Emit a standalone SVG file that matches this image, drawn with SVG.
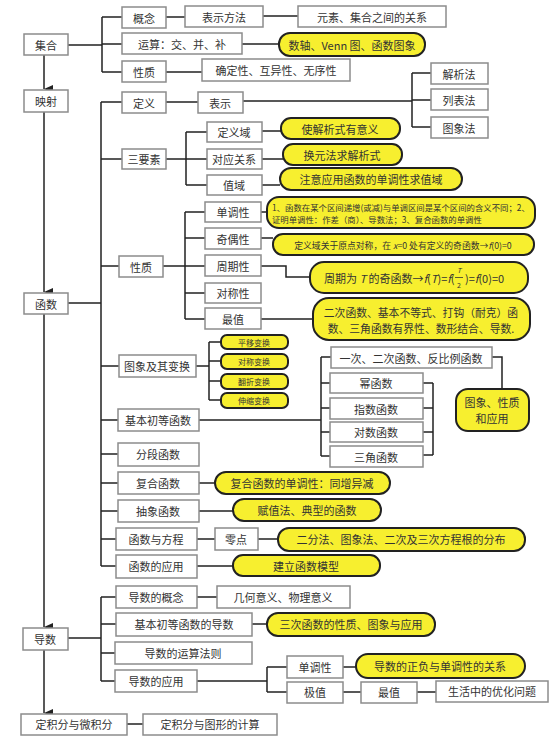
<svg xmlns="http://www.w3.org/2000/svg" width="554" height="740" viewBox="0 0 554 740">
<style>
.box{fill:#fff;stroke:#8c8c8c;stroke-width:1.5}
.pill{fill:#f7ef2f;stroke:#222;stroke-width:2}
.t{font-family:"Noto Sans CJK SC","Noto Sans",sans-serif;font-size:11px;fill:#333;text-anchor:middle;dominant-baseline:central}
.st{text-anchor:start}
.s{font-size:8px}
.xs{font-size:8.4px}
.ln{stroke:#222;stroke-width:1.5;fill:none}
</style>
<defs>
<marker id="ah" markerWidth="8" markerHeight="10" refX="4" refY="9" orient="auto" markerUnits="userSpaceOnUse">
<path d="M0,0 L4,9 L8,0 Z" fill="#222"/>
</marker>
</defs>
<rect width="554" height="740" fill="#fff"/>
<g id="connectors">
<path class="ln" d="M68 45H102M102 17V72M102 17H122M102 44H122M102 72H122M166 17H185M263 16H298M242 44H279M166 72H202"/>
<path class="ln" d="M44 55V89" marker-end="url(#ah)"/>
<path class="ln" d="M44 112V292" marker-end="url(#ah)"/>
<path class="ln" d="M44 314V627" marker-end="url(#ah)"/>
<path class="ln" d="M44 650V713" marker-end="url(#ah)"/>
<path class="ln" d="M68 303H101M101 102V566M101 102H122M101 159H122M101 266H119M101 366H119M101 420H118M101 454H118M101 483H118M101 511H118M101 539H116M101 566H116"/>
<path class="ln" d="M166 102H198M243 101H412M412 73V127M412 73H431M412 100H431M412 127H431"/>
<path class="ln" d="M166 159H186M186 132V185M186 132H207M186 159H207M186 185H207M262 131H281M262 159H283M262 185H280"/>
<path class="ln" d="M163 266H185M185 212V319M185 212H205M185 238H205M185 266H205M185 293H205M185 319H205M261 212H267M261 238H273M261 266H286V277H310M261 319H313"/>
<path class="ln" d="M196 366H209M209 342V400M209 342H221M209 361H221M209 381H221M209 400H221"/>
<path class="ln" d="M199 420H321M321 357V456M321 357H331M321 383H330M321 408H330M321 432H330M321 456H330M423 383H433M423 408H433M423 432H433M423 455H433M433 383V455M492 357H502V389"/>
<path class="ln" d="M199 483H215M199 511H233M197 539H215M258 539H278M197 566H233"/>
<path class="ln" d="M68 638H101M101 597V681M101 597H116M101 624H116M101 653H115M101 681H115M197 597H217M252 624H267M197 681H267M267 667V692M267 667H287M267 692H287M343 667H356M343 692H361M417 692H436M127 724H143"/>
</g>
<g id="n-jihe"><rect class="box" x="24" y="34" width="44" height="21"/><text class="t" x="46" y="45">集合</text></g>
<g id="n-gainian"><rect class="box" x="122" y="7" width="44" height="21"/><text class="t" x="144" y="18">概念</text></g>
<g id="n-biaoshifangfa"><rect class="box" x="185" y="6" width="78" height="21"/><text class="t" x="224" y="17">表示方法</text></g>
<g id="n-guanxi"><rect class="box" x="298" y="6" width="148" height="21"/><text class="t" x="372" y="17">元素、集合之间的关系</text></g>
<g id="n-yunsuan"><rect class="box" x="122" y="33" width="120" height="21"/><text class="t" x="182" y="44">运算：交、并、补</text></g>
<g id="n-venn"><rect class="pill" x="279" y="33" width="146" height="23" rx="11"/><text class="t" x="352" y="45">数轴、Venn 图、函数图象</text></g>
<g id="n-xingzhi1"><rect class="box" x="122" y="61" width="44" height="21"/><text class="t" x="144" y="72">性质</text></g>
<g id="n-que"><rect class="box" x="202" y="59" width="148" height="22"/><text class="t" x="276" y="70">确定性、互异性、无序性</text></g>
<g id="n-yingshe"><rect class="box" x="24" y="90" width="44" height="22"/><text class="t" x="46" y="101">映射</text></g>
<g id="n-dingyi"><rect class="box" x="122" y="92" width="44" height="21"/><text class="t" x="144" y="103">定义</text></g>
<g id="n-biaoshi"><rect class="box" x="198" y="92" width="45" height="21"/><text class="t" x="220" y="103">表示</text></g>
<g id="n-jiexi"><rect class="box" x="431" y="63" width="57" height="21"/><text class="t" x="459" y="74">解析法</text></g>
<g id="n-liebiao"><rect class="box" x="431" y="89" width="57" height="21"/><text class="t" x="459" y="100">列表法</text></g>
<g id="n-tuxiangfa"><rect class="box" x="431" y="117" width="57" height="21"/><text class="t" x="459" y="128">图象法</text></g>
<g id="n-sanyaosu"><rect class="box" x="122" y="149" width="44" height="20"/><text class="t" x="144" y="159">三要素</text></g>
<g id="n-dingyiyu"><rect class="box" x="207" y="122" width="55" height="20"/><text class="t" x="234" y="132">定义域</text></g>
<g id="n-duiying"><rect class="box" x="207" y="149" width="55" height="20"/><text class="t" x="234" y="159">对应关系</text></g>
<g id="n-zhiyu"><rect class="box" x="207" y="175" width="55" height="20"/><text class="t" x="234" y="185">值域</text></g>
<g id="n-y-youyiyi"><rect class="pill" x="281" y="118" width="119" height="21" rx="10"/><text class="t" x="340" y="129">使解析式有意义</text></g>
<g id="n-y-huanyuan"><rect class="pill" x="283" y="144" width="119" height="21" rx="10"/><text class="t" x="342" y="155">换元法求解析式</text></g>
<g id="n-y-zhiyu"><rect class="pill" x="280" y="168" width="182" height="22" rx="11"/><text class="t" x="371" y="179">注意应用函数的单调性求值域</text></g>
<g id="n-hanshu"><rect class="box" x="24" y="293" width="44" height="21"/><text class="t" x="46" y="304">函数</text></g>
<g id="n-xingzhi2"><rect class="box" x="119" y="256" width="44" height="21"/><text class="t" x="141" y="267">性质</text></g>
<g id="n-dandiao"><rect class="box" x="205" y="202" width="56" height="20"/><text class="t" x="233" y="212">单调性</text></g>
<g id="n-qiou"><rect class="box" x="205" y="228" width="56" height="21"/><text class="t" x="233" y="239">奇偶性</text></g>
<g id="n-zhouqi"><rect class="box" x="205" y="255" width="56" height="21"/><text class="t" x="233" y="266">周期性</text></g>
<g id="n-duicheng"><rect class="box" x="205" y="283" width="56" height="20"/><text class="t" x="233" y="293">对称性</text></g>
<g id="n-zuizhi"><rect class="box" x="205" y="308" width="56" height="21"/><text class="t" x="233" y="319">最值</text></g>
<g id="n-y-dandiao"><rect class="pill" x="267" y="197" width="268" height="31" rx="12"/><text class="t xs st" x="272" y="207">1、函数在某个区间递增(或减)与单调区间是某个区间的含义不同；2、</text><text class="t xs st" x="272" y="219">证明单调性：作差（商）、导数法；3、复合函数的单调性</text></g>
<g id="n-y-qiou"><rect class="pill" x="273" y="234" width="261" height="21" rx="10"/><text class="t" x="403" y="245" style="font-size:8.8px">定义域关于原点对称，在 <tspan font-style="italic">x</tspan>=0 处有定义的奇函数→<tspan font-style="italic">f</tspan>(0)=0</text></g>
<g id="n-y-zhouqi"><rect class="pill" x="310" y="262" width="218" height="31" rx="14"/><text class="t st" x="324" y="278">周期为 <tspan font-style="italic">T</tspan> 的奇函数→<tspan font-style="italic">f</tspan>(<tspan font-style="italic">T</tspan>)=<tspan font-style="italic">f</tspan>(</text><text class="t" x="459" y="270" font-style="italic" style="font-size:7px">T</text><line x1="455" y1="277.5" x2="463" y2="277.5" stroke="#333" stroke-width="0.8"/><text class="t" x="459" y="285" style="font-size:7px">2</text><text class="t st" x="465" y="278">)=<tspan font-style="italic">f</tspan>(0)=0</text></g>
<g id="n-y-zuizhi"><rect class="pill" x="313" y="298" width="217" height="42" rx="16"/><text class="t" x="421" y="312" style="font-size:10.8px">二次函数、基本不等式、打钩（耐克）函</text><text class="t" x="421" y="328" style="font-size:10.8px">数、三角函数有界性、数形结合、导数.</text></g>
<g id="n-tuxiangbianhuan"><rect class="box" x="119" y="355" width="77" height="22"/><text class="t" x="157" y="366">图象及其变换</text></g>
<g id="n-y-pingyi"><rect class="pill" x="221" y="335" width="67" height="14" rx="6"/><text class="t s" x="254" y="342">平移变换</text></g>
<g id="n-y-duichengbh"><rect class="pill" x="221" y="354" width="67" height="15" rx="6"/><text class="t s" x="254" y="361">对称变换</text></g>
<g id="n-y-fanzhe"><rect class="pill" x="221" y="374" width="67" height="15" rx="6"/><text class="t s" x="254" y="381">翻折变换</text></g>
<g id="n-y-shensuo"><rect class="pill" x="221" y="393" width="67" height="15" rx="6"/><text class="t s" x="254" y="400">伸缩变换</text></g>
<g id="n-yici"><rect class="box" x="331" y="347" width="161" height="21"/><text class="t" x="411" y="358">一次、二次函数、反比例函数</text></g>
<g id="n-mi"><rect class="box" x="330" y="373" width="93" height="20"/><text class="t" x="376" y="383">幂函数</text></g>
<g id="n-zhishu"><rect class="box" x="330" y="398" width="93" height="21"/><text class="t" x="376" y="409">指数函数</text></g>
<g id="n-duishu"><rect class="box" x="330" y="422" width="93" height="20"/><text class="t" x="376" y="432">对数函数</text></g>
<g id="n-sanjiao"><rect class="box" x="330" y="446" width="93" height="21"/><text class="t" x="376" y="457">三角函数</text></g>
<g id="n-y-xingzhiyingyong"><rect class="pill" x="456" y="389" width="73" height="42" rx="12"/><text class="t" x="492" y="402">图象、性质</text><text class="t" x="492" y="418">和应用</text></g>
<g id="n-jiben"><rect class="box" x="118" y="409" width="81" height="22"/><text class="t" x="158" y="420">基本初等函数</text></g>
<g id="n-fenduan"><rect class="box" x="118" y="443" width="81" height="23"/><text class="t" x="158" y="454">分段函数</text></g>
<g id="n-fuhe"><rect class="box" x="118" y="472" width="81" height="22"/><text class="t" x="158" y="483">复合函数</text></g>
<g id="n-chouxiang"><rect class="box" x="118" y="500" width="81" height="22"/><text class="t" x="158" y="511">抽象函数</text></g>
<g id="n-fangcheng"><rect class="box" x="116" y="528" width="81" height="22"/><text class="t" x="156" y="539">函数与方程</text></g>
<g id="n-lingdian"><rect class="box" x="215" y="528" width="43" height="22"/><text class="t" x="236" y="539">零点</text></g>
<g id="n-yingyong"><rect class="box" x="116" y="555" width="81" height="23"/><text class="t" x="156" y="566">函数的应用</text></g>
<g id="n-y-fuhe"><rect class="pill" x="215" y="472" width="175" height="22" rx="11"/><text class="t" x="302" y="483">复合函数的单调性：同增异减</text></g>
<g id="n-y-fuzhi"><rect class="pill" x="233" y="499" width="148" height="22" rx="11"/><text class="t" x="307" y="510">赋值法、典型的函数</text></g>
<g id="n-y-erfen"><rect class="pill" x="278" y="528" width="247" height="23" rx="11"/><text class="t" x="401" y="539">二分法、图象法、二次及三次方程根的分布</text></g>
<g id="n-y-moxing"><rect class="pill" x="233" y="555" width="147" height="21" rx="10"/><text class="t" x="306" y="566">建立函数模型</text></g>
<g id="n-daoshu"><rect class="box" x="23" y="628" width="45" height="22"/><text class="t" x="45" y="639">导数</text></g>
<g id="n-gainian2"><rect class="box" x="116" y="586" width="81" height="22"/><text class="t" x="156" y="597">导数的概念</text></g>
<g id="n-yiyi"><rect class="box" x="217" y="586" width="133" height="22"/><text class="t" x="283" y="597">几何意义、物理意义</text></g>
<g id="n-jibendao"><rect class="box" x="116" y="613" width="136" height="23"/><text class="t" x="184" y="624">基本初等函数的导数</text></g>
<g id="n-y-sanci"><rect class="pill" x="267" y="613" width="168" height="23" rx="11"/><text class="t" x="351" y="624">三次函数的性质、图象与应用</text></g>
<g id="n-yunsuanfaze"><rect class="box" x="115" y="642" width="137" height="22"/><text class="t" x="183" y="653">导数的运算法则</text></g>
<g id="n-daoyingyong"><rect class="box" x="115" y="670" width="82" height="22"/><text class="t" x="156" y="681">导数的应用</text></g>
<g id="n-dandiao2"><rect class="box" x="287" y="656" width="56" height="22"/><text class="t" x="315" y="667">单调性</text></g>
<g id="n-y-zhengfu"><rect class="pill" x="356" y="654" width="169" height="24" rx="12"/><text class="t" x="440" y="666">导数的正负与单调性的关系</text></g>
<g id="n-jizhi"><rect class="box" x="287" y="682" width="56" height="21"/><text class="t" x="315" y="692">极值</text></g>
<g id="n-zuizhi2"><rect class="box" x="361" y="682" width="56" height="21"/><text class="t" x="389" y="692">最值</text></g>
<g id="n-youhua"><rect class="box" x="436" y="681" width="112" height="21"/><text class="t" x="492" y="691">生活中的优化问题</text></g>
<g id="n-dingjifen"><rect class="box" x="21" y="714" width="106" height="21"/><text class="t" x="74" y="724">定积分与微积分</text></g>
<g id="n-tuxingjisuan"><rect class="box" x="143" y="714" width="134" height="21"/><text class="t" x="210" y="724">定积分与图形的计算</text></g>
</svg>
